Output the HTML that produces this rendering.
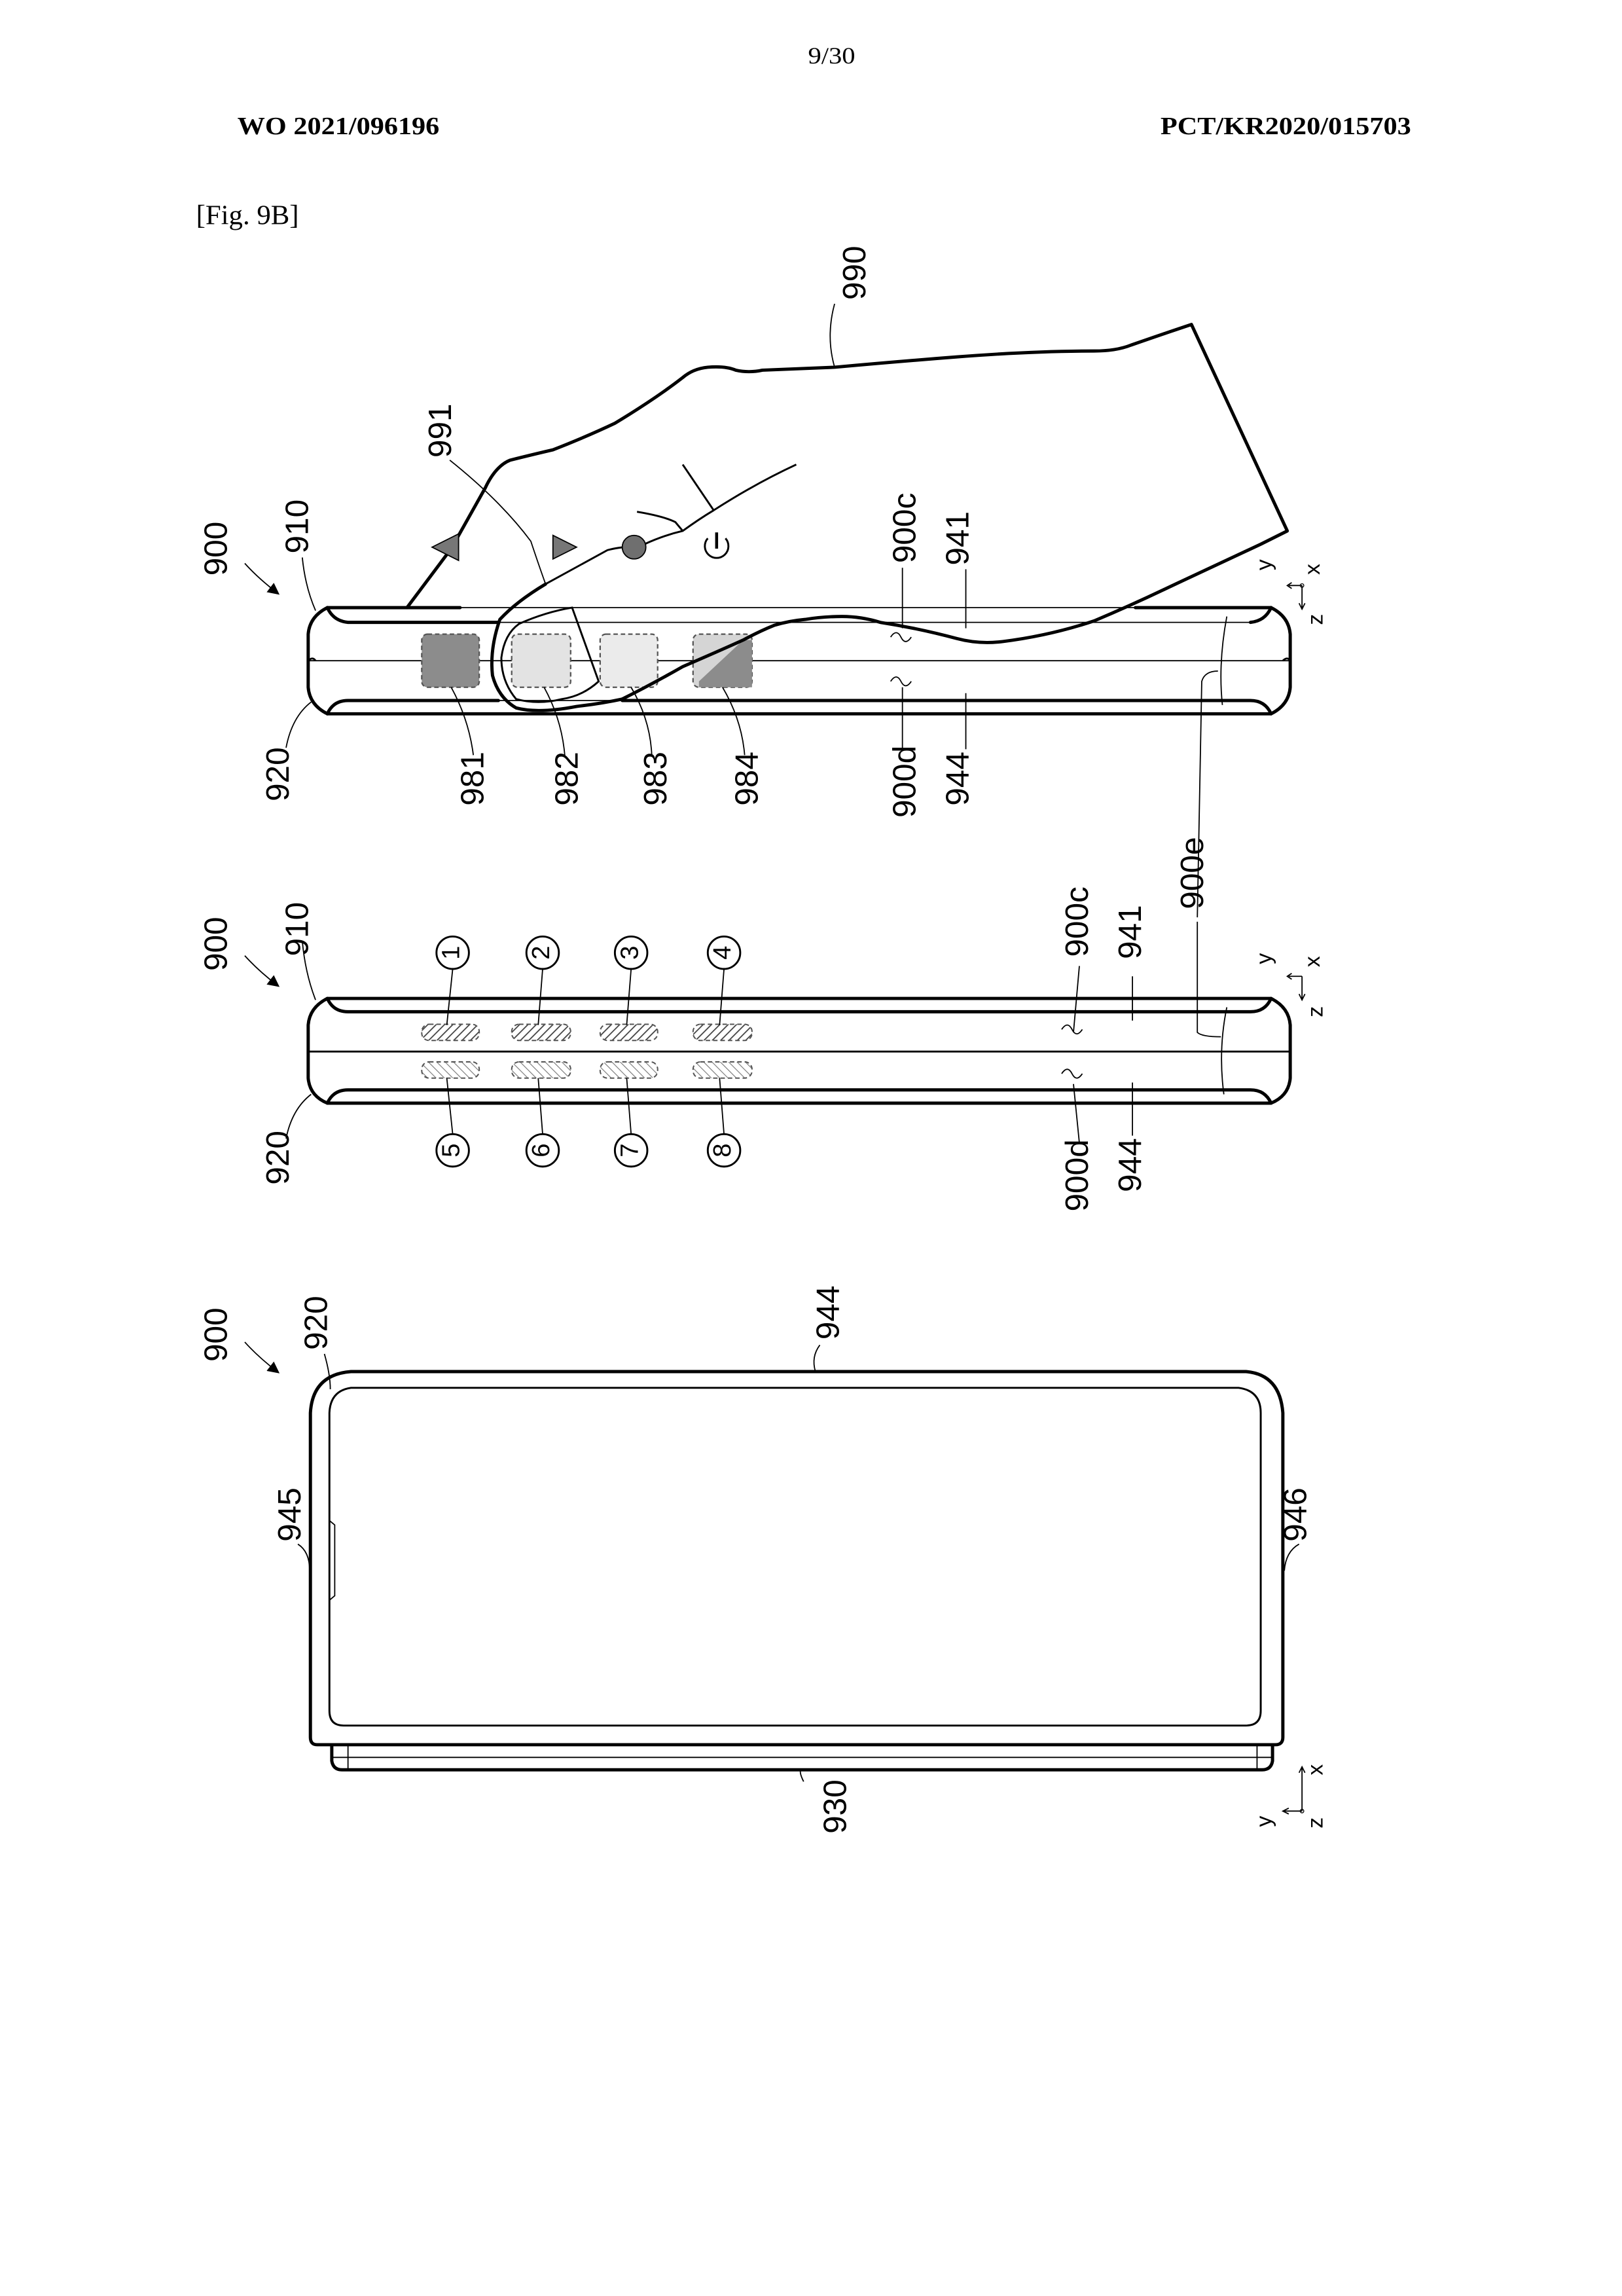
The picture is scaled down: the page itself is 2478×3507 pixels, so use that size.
<!DOCTYPE html>
<html><head><meta charset="utf-8"><style>
html,body{margin:0;padding:0;background:#fff;}
svg{display:block;}
text{font-family:"Liberation Sans",sans-serif;fill:#000;}
.s{font-family:"Liberation Serif",serif;}
.lb{font-size:22px;}
.ax{font-size:15px;}
.k{fill:none;stroke:#000;stroke-width:2.2;stroke-linecap:round;stroke-linejoin:round;}
.t{fill:none;stroke:#000;stroke-width:0.8;}
.m{fill:none;stroke:#000;stroke-width:1.3;}
</style></head><body>
<svg width="2478" height="3507" viewBox="0 0 1100 1556.8" xmlns="http://www.w3.org/2000/svg">
<defs>
<pattern id="h1" width="4" height="4" patternUnits="userSpaceOnUse" patternTransform="rotate(45)"><rect width="4" height="4" fill="#fff"/><line x1="0" y1="0" x2="0" y2="4" stroke="#444" stroke-width="1.6"/></pattern>
<pattern id="h2" width="4" height="4" patternUnits="userSpaceOnUse" patternTransform="rotate(-45)"><rect width="4" height="4" fill="#fff"/><line x1="0" y1="0" x2="0" y2="4" stroke="#777" stroke-width="1"/></pattern>
<marker id="ar" markerWidth="8" markerHeight="8" refX="6" refY="4" orient="auto" markerUnits="userSpaceOnUse"><path d="M0,0 L8,4 L0,8 z" fill="#000"/></marker>
</defs>
<rect width="1100" height="1556.8" fill="#fff"/>

<!-- header -->
<text class="s" x="548" y="43" font-size="16" textLength="32" lengthAdjust="spacingAndGlyphs">9/30</text>
<text class="s" x="161" y="91" font-size="17" font-weight="bold" textLength="137" lengthAdjust="spacingAndGlyphs">WO 2021/096196</text>
<text class="s" x="787" y="91" font-size="17" font-weight="bold" textLength="170" lengthAdjust="spacingAndGlyphs">PCT/KR2020/015703</text>
<text class="s" x="133" y="152" font-size="19">[Fig. 9B]</text>

<!-- ========== FIG TOP (hand) ========== -->
<path class="k" d="M222,412 L312,412 M770,412 L862,412"/>
<path class="t" d="M312,412 L770,412"/>
<path class="k" d="M222,412 Q210,418 209,430 L209,466 Q210,478 222,484 L862,484 Q874,478 875,466 L875,430 Q874,418 862,412"/>
<path class="k" d="M222,412 Q226,421 236,422 L338,422"/>
<path class="t" d="M338,422 L848,422"/>
<path class="k" d="M848,422 Q858,421 862,412"/>
<path class="t" d="M209,448 L875,448"/>
<path class="m" d="M209,448 Q212,445 214,448 M870,448 Q873,445 875,448"/>
<path class="k" d="M222,484 Q226,475 236,475 L338,475 M422,475 L848,475 Q858,475 862,484"/>
<path class="t" d="M338,475 L422,475"/>

<rect x="286" y="430" width="39" height="36" rx="4" fill="#8c8c8c" stroke="#555" stroke-width="1" stroke-dasharray="3,2"/>
<rect x="347" y="430" width="40" height="36" rx="4" fill="#e3e3e3" stroke="#555" stroke-width="1" stroke-dasharray="3,2"/>
<rect x="407" y="430" width="39" height="36" rx="4" fill="#ebebeb" stroke="#555" stroke-width="1" stroke-dasharray="3,2"/>
<rect x="470" y="430" width="40" height="36" rx="4" fill="#d5d5d5" stroke="#555" stroke-width="1" stroke-dasharray="3,2"/>
<path d="M504,434 L510,434 L510,466 L474,466 L474,462 Z" fill="#8c8c8c"/>

<path class="k" d="M276,412 L306,372 L329,331 Q336,316 346,312 Q362,308 375,305 Q398,296 417,287 Q445,270 463,256 Q470,250 480,249 Q492,248 499,251 Q508,253 517,251 L566,249 Q610,245 649,242 Q700,238 742,238 Q757,238 767,234 Q790,226 808,220 L873,360 Q865,364 855,369 Q823,384 793,398 Q768,410 742,421 Q712,431 680,435 Q664,437 649,433 Q623,426 597,422 Q584,418 571,418 Q558,418 546,420 Q535,421 525,424 Q515,428 504,434 Q484,443 463,452 Q442,464 422,474"/>
<path class="k" d="M370,396 Q350,408 339,420 Q332,440 334,458 Q338,473 350,480 Q365,484 391,479 Q408,477 422,474"/>
<path class="m" d="M370,396 Q392,384 412,373 Q420,371 425,371"/>
<path class="m" d="M437,369 Q450,363 463,360 Q474,352 484,346 Q512,328 540,315"/>
<path class="m" d="M463,315 L484,346"/>
<path class="m" d="M432,347 Q450,350 458,354 L463,360"/>
<path class="m" d="M388,412 L406,462 Q395,472 381,474 Q365,478 350,474 Q340,462 340,446 Q342,430 352,423 Q370,415 388,412 Z"/>
<path d="M293,371 L311,362 L311,380 Z" fill="#777" stroke="#000" stroke-width="0.8"/>
<path d="M375,363 L391,371 L375,379 Z" fill="#777" stroke="#000" stroke-width="0.8"/>
<circle cx="430" cy="371" r="8" fill="#6f6f6f" stroke="#000" stroke-width="0.8"/>
<path d="M480,365 A8,8 0 1 0 492,365" class="m" stroke-width="2"/>
<line x1="486" y1="361" x2="486" y2="372" stroke="#000" stroke-width="2"/>

<path class="t" d="M566,206 Q560,228 566,249"/>
<path class="t" d="M305,312 Q340,340 360,367 Q366,385 370,396"/>
<path class="t" d="M166,382 Q175,392 188,402" marker-end="url(#ar)"/>
<path class="t" d="M205,378 Q207,398 214,414"/>
<path class="t" d="M194,507 Q198,486 211,476"/>
<path class="t" d="M321,512 Q318,488 306,466"/>
<path class="t" d="M383,512 Q381,488 369,466"/>
<path class="t" d="M442,512 Q441,488 428,466"/>
<path class="t" d="M505,512 Q503,488 490,466"/>
<path class="t" d="M612,385 L612,426 M604,432 Q608,426 611,432 Q614,438 618,432"/>
<path class="t" d="M612,508 L612,466 M604,462 Q608,456 611,462 Q614,468 618,462"/>
<path class="t" d="M655,386 L655,426 M655,470 L655,508"/>
<path class="t" d="M832,418 Q826,450 829,478"/>
<path class="t" d="M812,622 L815,462 Q817,455 826,455"/>

<text class="lb" transform="translate(581,185) rotate(-90)" text-anchor="middle" dominant-baseline="middle">990</text>
<text class="lb" transform="translate(300,292) rotate(-90)" text-anchor="middle" dominant-baseline="middle">991</text>
<text class="lb" transform="translate(148,372) rotate(-90)" text-anchor="middle" dominant-baseline="middle">900</text>
<text class="lb" transform="translate(203,357) rotate(-90)" text-anchor="middle" dominant-baseline="middle">910</text>
<text class="lb" transform="translate(615,358) rotate(-90)" text-anchor="middle" dominant-baseline="middle">900c</text>
<text class="lb" transform="translate(651,365) rotate(-90)" text-anchor="middle" dominant-baseline="middle">941</text>
<text class="lb" transform="translate(190,525) rotate(-90)" text-anchor="middle" dominant-baseline="middle">920</text>
<text class="lb" transform="translate(322,528) rotate(-90)" text-anchor="middle" dominant-baseline="middle">981</text>
<text class="lb" transform="translate(386,528) rotate(-90)" text-anchor="middle" dominant-baseline="middle">982</text>
<text class="lb" transform="translate(446,528) rotate(-90)" text-anchor="middle" dominant-baseline="middle">983</text>
<text class="lb" transform="translate(508,528) rotate(-90)" text-anchor="middle" dominant-baseline="middle">984</text>
<text class="lb" transform="translate(615,530) rotate(-90)" text-anchor="middle" dominant-baseline="middle">900d</text>
<text class="lb" transform="translate(651,528) rotate(-90)" text-anchor="middle" dominant-baseline="middle">944</text>
<text class="lb" transform="translate(810,592) rotate(-90)" text-anchor="middle" dominant-baseline="middle">900e</text>

<path class="t" d="M883,397 L874,397 M876,395 L873,397 L876,399 M883,397 L883,412 M881,409 L883,413 L885,409"/>
<circle cx="883" cy="397" r="1.2" fill="none" stroke="#000" stroke-width="0.6"/>
<text class="ax" transform="translate(858,383) rotate(-90)" text-anchor="middle" dominant-baseline="middle">y</text>
<text class="ax" transform="translate(891,386) rotate(-90)" text-anchor="middle" dominant-baseline="middle">x</text>
<text class="ax" transform="translate(893,420) rotate(-90)" text-anchor="middle" dominant-baseline="middle">z</text>

<!-- ========== FIG MIDDLE ========== -->
<path class="k" d="M222,677 Q210,683 209,695 L209,731 Q210,743 222,748 L862,748 Q874,743 875,731 L875,695 Q874,683 862,677 Z"/>
<path class="k" d="M222,677 Q226,686 236,686 L848,686 Q858,686 862,677"/>
<path class="k" d="M222,748 Q226,739 236,739 L848,739 Q858,739 862,748"/>
<path class="m" d="M209,713 L875,713"/>

<g stroke="#555" stroke-width="0.9" stroke-dasharray="3,2">
<rect x="286" y="694.5" width="39" height="11" rx="5" fill="url(#h1)"/>
<rect x="347" y="694.5" width="40" height="11" rx="5" fill="url(#h1)"/>
<rect x="407" y="694.5" width="39" height="11" rx="5" fill="url(#h1)"/>
<rect x="470" y="694.5" width="40" height="11" rx="5" fill="url(#h1)"/>
<rect x="286" y="720" width="39" height="11" rx="5" fill="url(#h2)"/>
<rect x="347" y="720" width="40" height="11" rx="5" fill="url(#h2)"/>
<rect x="407" y="720" width="39" height="11" rx="5" fill="url(#h2)"/>
<rect x="470" y="720" width="40" height="11" rx="5" fill="url(#h2)"/>
</g>
<g class="m">
<circle cx="307" cy="646" r="11"/><circle cx="368" cy="646" r="11"/><circle cx="428" cy="646" r="11"/><circle cx="491" cy="646" r="11"/>
<circle cx="307" cy="780" r="11"/><circle cx="368" cy="780" r="11"/><circle cx="428" cy="780" r="11"/><circle cx="491" cy="780" r="11"/>
</g>
<g font-size="17" text-anchor="middle" dominant-baseline="middle">
<text transform="translate(307,646) rotate(-90)">1</text><text transform="translate(368,646) rotate(-90)">2</text><text transform="translate(428,646) rotate(-90)">3</text><text transform="translate(491,646) rotate(-90)">4</text>
<text transform="translate(307,780) rotate(-90)">5</text><text transform="translate(368,780) rotate(-90)">6</text><text transform="translate(428,780) rotate(-90)">7</text><text transform="translate(491,780) rotate(-90)">8</text>
</g>
<path class="t" d="M307,657 L303,695 M368,657 L365,695 M428,657 L425,695 M491,657 L488,695 M303,731 L307,769 M365,731 L368,769 M425,731 L428,769 M488,731 L491,769"/>
<path class="t" d="M166,648 Q175,658 188,668" marker-end="url(#ar)"/>
<path class="t" d="M205,638 Q207,660 214,678"/>
<path class="t" d="M194,772 Q198,752 211,742"/>
<path class="t" d="M732,655 L728,700 M720,698 Q724,692 727,698 Q730,704 734,698"/>
<path class="t" d="M732,775 L728,735 M720,728 Q724,722 727,728 Q730,734 734,728"/>
<path class="t" d="M768,662 L768,692 M768,734 L768,770"/>
<path class="t" d="M812,625 L812,700 Q815,703 828,703"/>
<path class="t" d="M832,683 Q826,712 830,742"/>
<text class="lb" transform="translate(148,640) rotate(-90)" text-anchor="middle" dominant-baseline="middle">900</text>
<text class="lb" transform="translate(203,630) rotate(-90)" text-anchor="middle" dominant-baseline="middle">910</text>
<text class="lb" transform="translate(190,785) rotate(-90)" text-anchor="middle" dominant-baseline="middle">920</text>
<text class="lb" transform="translate(732,625) rotate(-90)" text-anchor="middle" dominant-baseline="middle">900c</text>
<text class="lb" transform="translate(768,632) rotate(-90)" text-anchor="middle" dominant-baseline="middle">941</text>
<text class="lb" transform="translate(732,797) rotate(-90)" text-anchor="middle" dominant-baseline="middle">900d</text>
<text class="lb" transform="translate(768,790) rotate(-90)" text-anchor="middle" dominant-baseline="middle">944</text>
<path class="t" d="M883,662 L874,662 M876,660 L873,662 L876,664 M883,662 L883,677 M881,674 L883,678 L885,674"/>
<text class="ax" transform="translate(858,650) rotate(-90)" text-anchor="middle" dominant-baseline="middle">y</text>
<text class="ax" transform="translate(891,652) rotate(-90)" text-anchor="middle" dominant-baseline="middle">x</text>
<text class="ax" transform="translate(893,686) rotate(-90)" text-anchor="middle" dominant-baseline="middle">z</text>

<!-- ========== FIG BOTTOM ========== -->
<path class="k" d="M238,930 L845,930 Q868,932 870,958 L870,1178 Q870,1183 865,1183 L215,1183 Q210.5,1183 210.5,1178 L210.5,958 Q212,932 238,930 Z"/>
<path class="m" d="M238,941 L840,941 Q855,943 855,958 L855,1160 Q855,1170 845,1170 L233,1170 Q223.4,1170 223.4,1160 L223.4,958 Q224,943 238,941 Z"/>
<path class="t" d="M223.4,1031 L227,1034 L227,1082 L223.4,1085"/>
<path class="k" d="M225,1183 L225,1194 Q226,1200 232,1200 L856,1200 Q862,1200 863,1194 L863,1183"/>
<path class="t" d="M236,1183 L236,1200 M852.5,1183 L852.5,1200 M225,1191.6 L863,1191.6"/>
<path class="t" d="M166,910 Q175,920 188,930" marker-end="url(#ar)"/>
<path class="t" d="M220,918 Q224,932 224,942"/>
<path class="t" d="M556,912 Q550,920 553,930"/>
<path class="t" d="M202,1047 Q210,1052 210,1065"/>
<path class="t" d="M881,1047 Q872,1052 871,1065"/>
<path class="t" d="M545,1208 Q542,1202 543,1200"/>
<text class="lb" transform="translate(148,905) rotate(-90)" text-anchor="middle" dominant-baseline="middle">900</text>
<text class="lb" transform="translate(216,897) rotate(-90)" text-anchor="middle" dominant-baseline="middle">920</text>
<text class="lb" transform="translate(563,890) rotate(-90)" text-anchor="middle" dominant-baseline="middle">944</text>
<text class="lb" transform="translate(198,1027) rotate(-90)" text-anchor="middle" dominant-baseline="middle">945</text>
<text class="lb" transform="translate(880,1027) rotate(-90)" text-anchor="middle" dominant-baseline="middle">946</text>
<text class="lb" transform="translate(568,1225) rotate(-90)" text-anchor="middle" dominant-baseline="middle">930</text>
<path class="t" d="M883,1228 L883,1199 M881,1202 L883,1198 L885,1202 M883,1228 L871,1228 M874,1226 L870,1228 L874,1230"/>
<circle cx="883" cy="1228" r="1.2" fill="none" stroke="#000" stroke-width="0.6"/>
<text class="ax" transform="translate(893,1200) rotate(-90)" text-anchor="middle" dominant-baseline="middle">x</text>
<text class="ax" transform="translate(858,1235) rotate(-90)" text-anchor="middle" dominant-baseline="middle">y</text>
<text class="ax" transform="translate(893,1236) rotate(-90)" text-anchor="middle" dominant-baseline="middle">z</text>
</svg>
</body></html>
